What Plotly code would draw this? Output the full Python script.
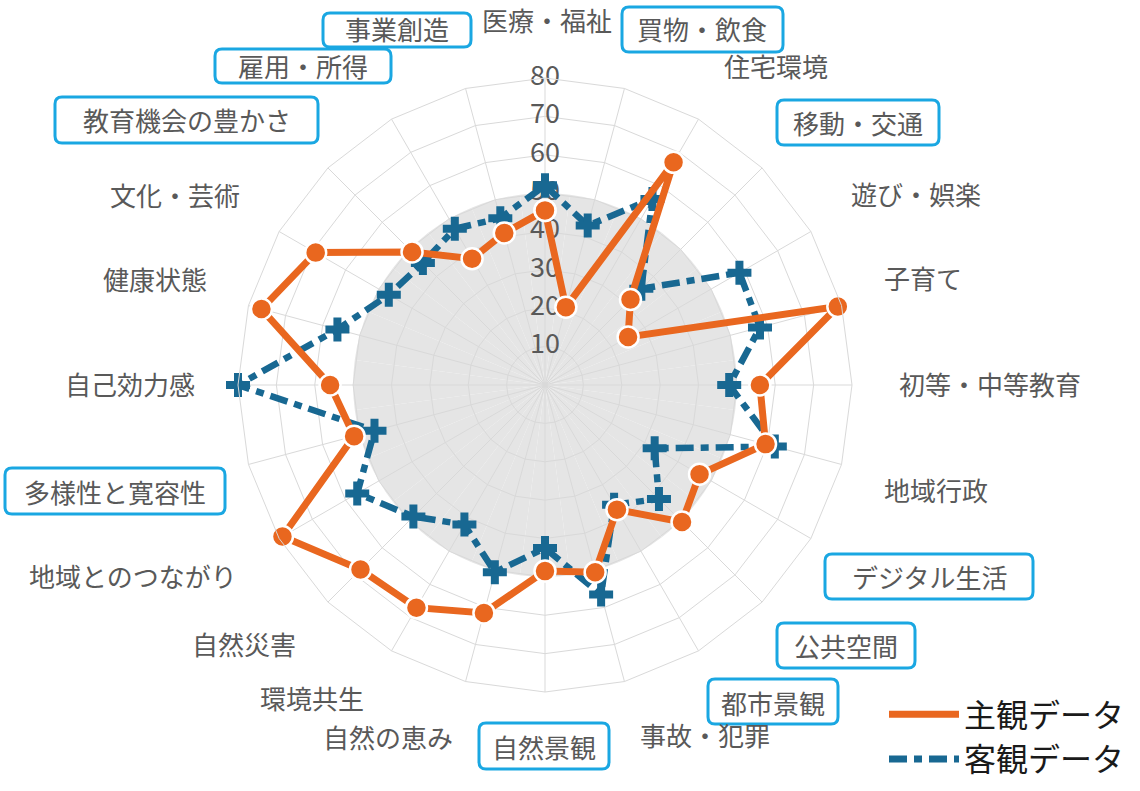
import plotly.graph_objects as go

# ---------------- data ----------------
categories = ["医療・福祉", "買物・飲食", "住宅環境", "移動・交通", "遊び・娯楽", "子育て",
              "初等・中等教育", "地域行政", "デジタル生活", "公共空間", "都市景観", "事故・犯罪",
              "自然景観", "自然の恵み", "環境共生", "自然災害", "地域とのつながり", "多様性と寛容性",
              "自己効力感", "健康状態", "文化・芸術", "教育機会の豊かさ", "雇用・所得", "事業創造"]

subjective = [45.5, 21, 67, 31.5, 25, 79, 56, 59.5, 46.5, 50.5, 37.5, 50.5,
              48.5, 61.5, 67, 68, 79, 51.5, 56, 76.5, 69, 49, 38, 41]

objective = [52, 43, 56, 35.5, 58.5, 58, 48, 62, 33, 42, 36, 56.5,
             42.5, 50.5, 42, 48.5, 56.5, 46, 80, 56, 47, 45, 47, 45]

highlighted = ["事業創造", "買物・飲食", "雇用・所得", "移動・交通", "教育機会の豊かさ",
               "多様性と寛容性", "デジタル生活", "公共空間", "都市景観", "自然景観"]

radial_ticks = [10, 20, 30, 40, 50, 60, 70, 80]
radial_ticktext = ["10", "20", "30", "40", "50", "60", "70", "80"]
band_level = 50
series_names = ["主観データ", "客観データ"]

# ---------------- styling / layout ----------------
W, H = 1140, 791
CX, CY, R = 545, 385, 307
ORANGE = "#E9671F"
BLUE = "#186892"
GRID = "#d9d9d9"
TXT = "#595959"
BOXC = "#1AA7E2"
FONT = "Noto Sans CJK JP"

# pixel centres of category labels (layout only)
label_pos = {
    "医療・福祉": (547, 19), "買物・飲食": (702, 29), "住宅環境": (776, 66),
    "移動・交通": (858, 122), "遊び・娯楽": (916, 193), "子育て": (923, 277),
    "初等・中等教育": (990, 383), "地域行政": (936, 490), "デジタル生活": (929, 576),
    "公共空間": (846, 645), "都市景観": (773, 702), "事故・犯罪": (705, 734),
    "自然景観": (544, 746), "自然の恵み": (388, 736), "環境共生": (312, 697),
    "自然災害": (244, 643), "地域とのつながり": (133, 575), "多様性と寛容性": (115, 491),
    "自己効力感": (130, 384), "健康状態": (155, 278), "文化・芸術": (175, 194),
    "教育機会の豊かさ": (187, 119), "雇用・所得": (303, 66), "事業創造": (397, 29),
}
# pixel boxes (x0, y0, x1, y1) around highlighted labels
box_px = {
    "事業創造": (323, 13, 471, 47), "雇用・所得": (215, 49, 391, 83),
    "買物・飲食": (622, 7, 783, 52), "移動・交通": (777, 100, 939, 145),
    "教育機会の豊かさ": (55, 97, 318, 143), "多様性と寛容性": (5, 468, 225, 514),
    "デジタル生活": (825, 554, 1033, 599), "公共空間": (777, 623, 915, 668),
    "都市景観": (708, 679, 838, 724), "自然景観": (479, 723, 609, 769),
}


def px(x):
    return x / W


def py(y):
    return 1 - y / H


def rounded_path(x0, y0, x1, y1, rad=7):
    rx, ry = rad / W, rad / H
    a, b, c, d = px(x0), py(y0), px(x1), py(y1)  # b top, d bottom
    return (f"M{a+rx},{b} L{c-rx},{b} Q{c},{b} {c},{b-ry} L{c},{d+ry} Q{c},{d} {c-rx},{d} "
            f"L{a+rx},{d} Q{a},{d} {a},{d+ry} L{a},{b-ry} Q{a},{b} {a+rx},{b} Z")


dom_x = [px(CX - R), px(CX + R)]
dom_y = [py(CY + R), py(CY - R)]

fig = go.Figure()

# grey band (0-50) drawn as circular bars in an underlying polar subplot
fig.add_trace(go.Barpolar(r=[band_level] * len(categories), theta=categories,
                          marker=dict(color="#e5e5e5", line=dict(width=0)),
                          subplot="polar", showlegend=False, hoverinfo="skip"))

# radial tick labels centred on the top spoke
fig.add_trace(go.Scatterpolar(r=radial_ticks, theta=[categories[0]] * len(radial_ticks),
                              text=radial_ticktext, mode="text",
                              textfont=dict(family=FONT, size=27, color=TXT),
                              subplot="polar2", showlegend=False, hoverinfo="skip"))

theta_closed = categories + [categories[0]]

fig.add_trace(go.Scatterpolar(r=objective + [objective[0]], theta=theta_closed,
                              mode="lines+markers", subplot="polar2", showlegend=False,
                              line=dict(color=BLUE, width=6.5, dash="18px,7px,8px,7px"),
                              marker=dict(symbol="cross", size=20, color=BLUE,
                                          line=dict(width=0))))

fig.add_trace(go.Scatterpolar(r=subjective + [subjective[0]], theta=theta_closed,
                              mode="lines+markers", subplot="polar2", showlegend=False,
                              line=dict(color=ORANGE, width=7),
                              marker=dict(symbol="circle", size=21, color=ORANGE,
                                          line=dict(width=2.5, color="white"))))

# legend entries
fig.add_trace(go.Scatterpolar(r=[None], theta=[categories[0]], mode="lines",
                              name=series_names[0], subplot="polar2",
                              line=dict(color=ORANGE, width=7)))
fig.add_trace(go.Scatterpolar(r=[None], theta=[categories[0]], mode="lines",
                              name=series_names[1], subplot="polar2",
                              line=dict(color=BLUE, width=7, dash="18px,7px,8px,7px")))

annotations = []
for cat in categories:
    x, y = label_pos[cat]
    annotations.append(dict(x=px(x), y=py(y), xref="paper", yref="paper", text=cat,
                            showarrow=False, xanchor="center", yanchor="middle",
                            font=dict(family=FONT, size=26, color=TXT)))

shapes = []
for cat in highlighted:
    x0, y0, x1, y1 = box_px[cat]
    shapes.append(dict(type="path", xref="paper", yref="paper",
                       path=rounded_path(x0, y0, x1, y1),
                       line=dict(color=BOXC, width=3), fillcolor="rgba(0,0,0,0)",
                       layer="above"))

fig.update_layout(
    width=W, height=H,
    margin=dict(l=0, r=0, t=0, b=0),
    paper_bgcolor="white",
    showlegend=True,
    legend=dict(x=px(884), y=py(687), xanchor="left", yanchor="top",
                font=dict(family=FONT, size=32, color="#1a1a1a"),
                itemwidth=70, tracegroupgap=0, bgcolor="rgba(0,0,0,0)"),
    polar=dict(
        domain=dict(x=dom_x, y=dom_y),
        bgcolor="white", bargap=0,
        angularaxis=dict(visible=False, rotation=90, direction="clockwise",
                         categoryorder="array", categoryarray=categories),
        radialaxis=dict(visible=False, range=[0, 80]),
    ),
    polar2=dict(
        domain=dict(x=dom_x, y=dom_y),
        bgcolor="rgba(0,0,0,0)",
        gridshape="linear",
        angularaxis=dict(rotation=90, direction="clockwise", categoryorder="array",
                         categoryarray=categories, showticklabels=False, ticks="",
                         gridcolor=GRID, gridwidth=1, linecolor=GRID, linewidth=1),
        radialaxis=dict(range=[0, 80], tickvals=radial_ticks, showticklabels=False,
                        ticks="", showline=False, gridcolor=GRID, gridwidth=1, angle=90),
    ),
    annotations=annotations,
    shapes=shapes,
)

fig.write_html("out.html", config={"displayModeBar": False},
               post_script="document.body.style.margin='0';document.body.style.padding='0';")
